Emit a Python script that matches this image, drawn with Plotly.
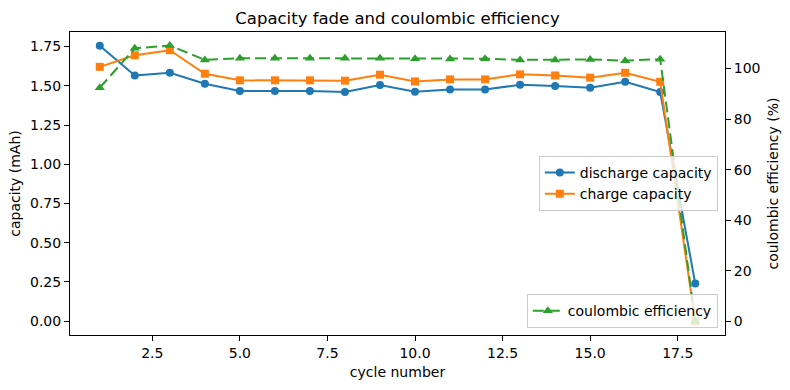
import plotly.graph_objects as go

cycles = list(range(1, 19))
discharge = [1.756, 1.566, 1.583, 1.513, 1.467, 1.467, 1.467, 1.460, 1.505,
             1.463, 1.476, 1.476, 1.507, 1.499, 1.488, 1.526, 1.460, 0.240]
charge = [1.621, 1.695, 1.727, 1.577, 1.535, 1.535, 1.535, 1.533, 1.571,
          1.528, 1.541, 1.541, 1.573, 1.566, 1.552, 1.583, 1.526, 0.000]
ce = [92.4, 108.0, 109.1, 103.4, 104.1, 104.1, 104.1, 104.1, 104.1,
      103.9, 103.8, 103.9, 103.4, 103.4, 103.6, 103.1, 103.7, 0.0]

BLUE, ORANGE, GREEN = "#1f77b4", "#ff7f0e", "#2ca02c"
FONT = "DejaVu Sans"
FS = 14

fig = go.Figure()
fig.add_trace(go.Scatter(x=cycles, y=discharge, name="discharge capacity",
                         mode="lines+markers", line=dict(color=BLUE, width=2),
                         marker=dict(symbol="circle", size=8, color=BLUE),
                         legend="legend"))
fig.add_trace(go.Scatter(x=cycles, y=charge, name="charge capacity",
                         mode="lines+markers", line=dict(color=ORANGE, width=2),
                         marker=dict(symbol="square", size=8, color=ORANGE),
                         legend="legend"))
fig.add_trace(go.Scatter(x=cycles, y=ce, name="coulombic efficiency",
                         mode="lines+markers", yaxis="y2",
                         line=dict(color=GREEN, width=2, dash="11px,5px"),
                         marker=dict(symbol="triangle-up", size=9, color=GREEN),
                         legend="legend2"))

axis_common = dict(showline=True, linecolor="black", linewidth=1,
                   ticks="outside", ticklen=5, tickwidth=1, tickcolor="black",
                   showgrid=False, zeroline=False,
                   tickfont=dict(family=FONT, size=FS, color="black"))

fig.update_layout(
    width=790, height=390,
    margin=dict(l=70, r=65, t=32, b=53),
    paper_bgcolor="white", plot_bgcolor="white",
    font=dict(family=FONT, size=FS, color="black"),
    title=dict(text="Capacity fade and coulombic efficiency", x=0.5, xref="paper",
               y=1 - 18 / 390, yref="container", yanchor="middle",
               font=dict(family=FONT, size=16.5, color="black")),
    xaxis=dict(range=[0.15, 18.85], tick0=0, dtick=2.5, tickformat=".1f",
               mirror=True,
               title=dict(text="cycle number", font=dict(family=FONT, size=FS), standoff=7),
               **axis_common),
    yaxis=dict(range=[-0.0878, 1.843], tick0=0, dtick=0.25, tickformat=".2f",
               mirror=True,
               title=dict(text="capacity (mAh)", font=dict(family=FONT, size=FS), standoff=6),
               **axis_common),
    yaxis2=dict(range=[-5.45, 114.45], tick0=0, dtick=20, overlaying="y", side="right",
                title=dict(text="coulombic efficiency (%)", font=dict(family=FONT, size=FS), standoff=8),
                **axis_common),
    legend=dict(x=0.989, xanchor="right", y=0.5, yanchor="middle",
                bgcolor="rgba(255,255,255,0.8)", bordercolor="#cccccc", borderwidth=1,
                font=dict(family=FONT, size=FS), tracegroupgap=0, itemwidth=30),
    legend2=dict(x=0.989, xanchor="right", y=0.023, yanchor="bottom",
                 bgcolor="rgba(255,255,255,0.8)", bordercolor="#cccccc", borderwidth=1,
                 font=dict(family=FONT, size=FS), itemwidth=30),
)

fig.write_html("out.html")
